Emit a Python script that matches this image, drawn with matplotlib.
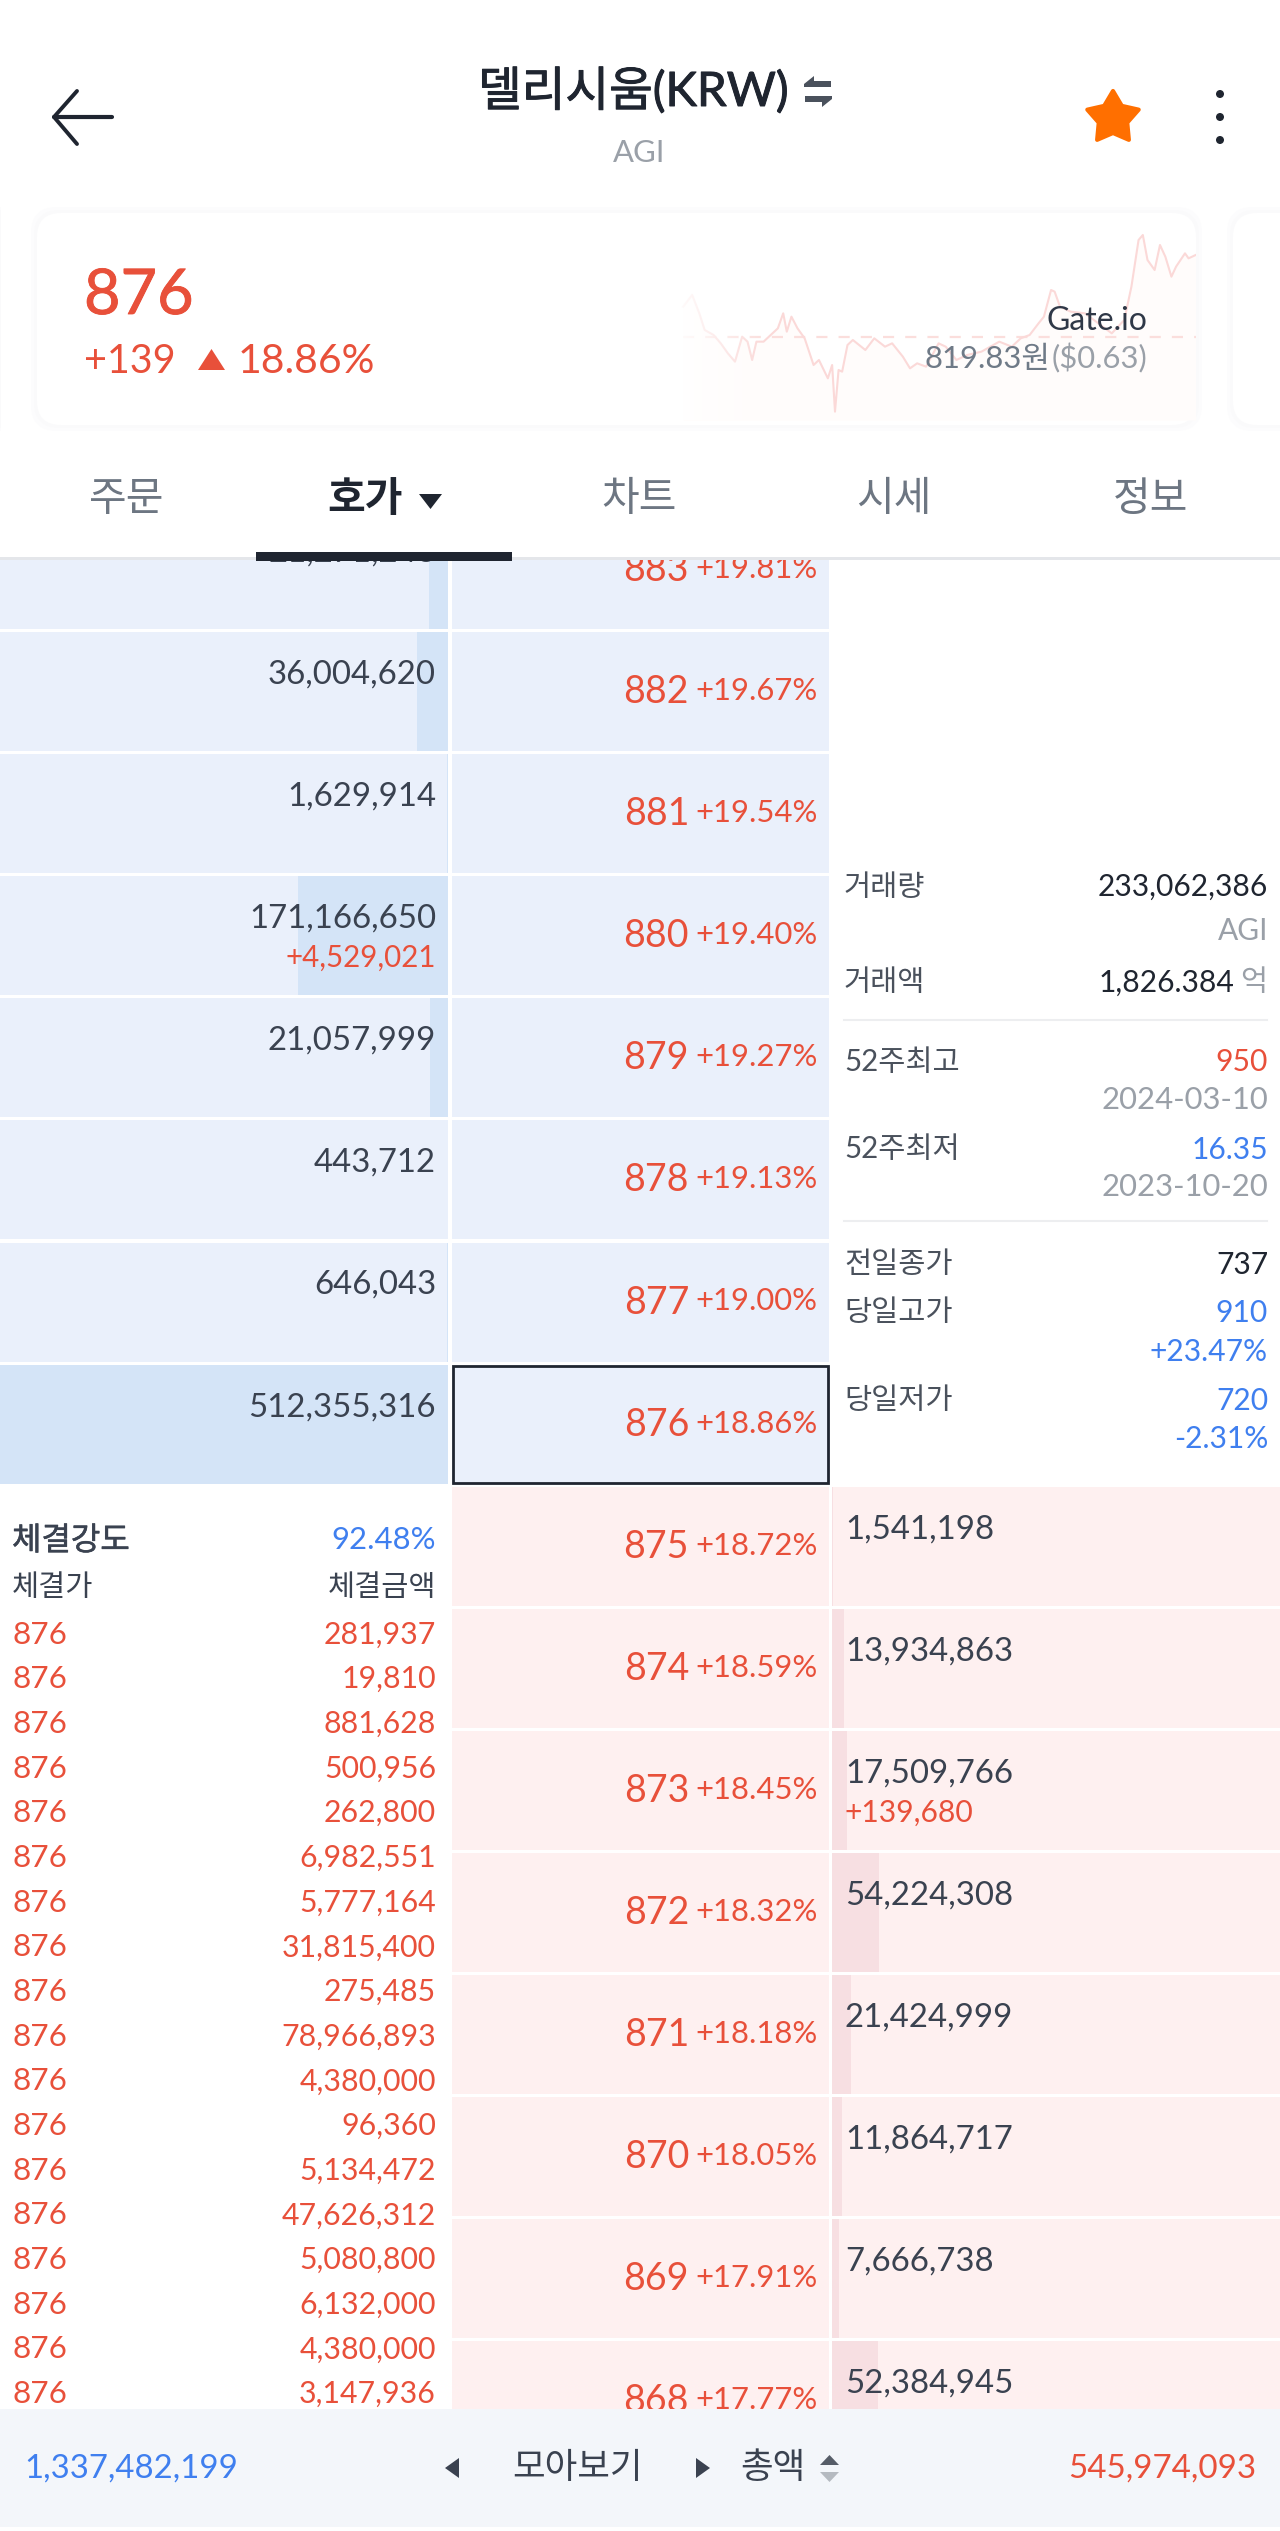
import matplotlib
matplotlib.use('Agg')
import matplotlib.pyplot as plt
import matplotlib.patheffects as pe
from matplotlib.patches import FancyBboxPatch, Polygon, Rectangle, Circle
import numpy as np

plt.rcParams['font.family'] = ['Lato', 'Noto Sans CJK KR', 'DejaVu Sans']

# order book
prices = [883, 882, 881, 880, 879, 878, 877, 876, 875, 874, 873, 872, 871, 870, 869, 868]
pcts = ['+19.81%', '+19.67%', '+19.54%', '+19.40%', '+19.27%', '+19.13%', '+19.00%', '+18.86%',
        '+18.72%', '+18.59%', '+18.45%', '+18.32%', '+18.18%', '+18.05%', '+17.91%', '+17.77%']
bid_vols = [21271243, 36004620, 1629914, 171166650, 21057999, 443712, 646043, 512355316]
ask_vols = [1541198, 13934863, 17509766, 54224308, 21424999, 11864717, 7666738, 52384945]
bid_change = {880: '+4,529,021'}
ask_change = {873: '+139,680'}

# trades
trade_price = '876'
trade_vals = [281937, 19810, 881628, 500956, 262800, 6982551, 5777164, 31815400, 275485,
              78966893, 4380000, 96360, 5134472, 47626312, 5080800, 6132000, 4380000, 3147936]

# sparkline
spark_x = [65, 90, 110, 125, 150, 170, 190, 210, 230, 245, 258, 270, 290, 320, 330, 345, 355, 368, 385, 405,
           430, 445, 470, 482, 490, 500, 510, 525, 540, 575, 600, 630, 650, 680, 700, 720, 745, 780, 800, 830,
           860, 900, 950, 985, 1010, 1035, 1060, 1075, 1095, 1105, 1120, 1150, 1190, 1240, 1265, 1300, 1320,
           1340, 1352, 1365, 1385, 1400, 1415, 1432, 1445, 1470, 1480, 1500]
spark_y = [370, 405, 350, 300, 285, 260, 230, 205, 280, 265, 210, 265, 265, 295, 305, 350, 295, 340, 305, 275,
           195, 210, 155, 195, 55, 180, 175, 255, 270, 240, 275, 250, 260, 220, 185, 200, 190, 260, 250, 210,
           225, 235, 265, 250, 275, 285, 320, 340, 420, 415, 370, 355, 350, 310, 290, 330, 430, 570, 585, 510,
           480, 555, 520, 460, 490, 530, 515, 525]

RED = '#E8503A'
BLUE = '#3F7FEF'
DARK = '#3A4250'
INK = '#1F2530'
GRAY = '#9AA0A8'
BID_BG = '#EAF0FB'
BID_BAR = '#D4E4F7'
ASK_BG = '#FEF0F0'
ASK_BAR = '#F7DFE2'

fig = plt.figure(figsize=(12.8, 25.31), dpi=100, facecolor='white')

# whole page in pixels
ax = fig.add_axes([0, 0, 1, 1], zorder=1)
ax.set_xlim(0, 1280)
ax.set_ylim(2531, 0)
ax.axis('off')


def px(size):
    return size * 0.72


def put(a, x, y, s, size, color=DARK, ha='left', heavy=0, **kw):
    t = a.text(x, y, s, fontsize=px(size), color=color, ha=ha, va='baseline', clip_on=True, **kw)
    if heavy:
        # no medium weight installed, thicken the regular one a little
        t.set_path_effects([pe.withStroke(linewidth=heavy, foreground=color)])
    return t


# header
ax.plot([77, 54, 77], [91, 117, 144], color=INK, lw=2.8, solid_joinstyle='round', solid_capstyle='round')
ax.plot([54, 112], [117, 117], color=INK, lw=3, solid_capstyle='round')
put(ax, 478, 106, '델리시움(KRW)', 47.5, INK, heavy=0.7)
put(ax, 639, 162, 'AGI', 31, GRAY, ha='center')
# swap arrows
ax.add_patch(Polygon([(804, 84), (814, 76), (814, 81), (831, 81), (831, 87), (804, 87)], fc='#4A515C', ec='none'))
ax.add_patch(Polygon([(832, 99), (822, 107), (822, 102), (805, 102), (805, 96), (832, 96)], fc='#4A515C', ec='none'))
# star
ang = np.deg2rad(90 + np.arange(10) * 36)
rad = np.where(np.arange(10) % 2 == 0, 27, 15)
ax.add_patch(Polygon(np.c_[1113 + rad * np.cos(ang), 118 - rad * np.sin(ang)], fc='#FF6F00', ec='#FF6F00',
                     lw=3, joinstyle='round'))
for yy in [94, 117, 140]:
    ax.add_patch(Circle((1220, yy), 4, fc=INK, ec='none'))

# price card
for off, col in [(6, '#FCFCFD'), (3, '#FAFAFB')]:
    ax.add_patch(FancyBboxPatch((37 - off, 213 - off), 1159 + 2 * off, 212 + 2 * off,
                                boxstyle='round,pad=0,rounding_size=26', fc=col, ec='none'))
    ax.add_patch(FancyBboxPatch((1233 - off, 213 - off), 100, 212 + 2 * off,
                                boxstyle='round,pad=0,rounding_size=26', fc=col, ec='none'))
    ax.add_patch(Rectangle((0, 213 - off), 1, 212 + 2 * off, fc=col, ec='none'))
ax.add_patch(FancyBboxPatch((37, 213), 1159, 212, boxstyle='round,pad=0,rounding_size=24', fc='white', ec='none'))
ax.add_patch(FancyBboxPatch((1233, 213), 100, 212, boxstyle='round,pad=0,rounding_size=24', fc='white', ec='none'))

spark = fig.add_axes([660 / 1280, 1 - 430 / 2531, 535.7 / 1280, 220 / 2531], zorder=2)
spark.set_xlim(0, 1500)
spark.set_ylim(0, 660)
spark.axis('off')
spark.fill_between(spark_x, spark_y, 30, color='#FFFCFB', lw=0, zorder=1)
spark.hlines(280, 65, 1500, color='#FBDEDC', lw=1.6, linestyles=(0, (5, 5)), zorder=2)
spark.plot(spark_x, spark_y, color='#FBD9D8', lw=1.5, zorder=3)
# line fades out towards the left
fade = np.zeros((1, 60, 4))
fade[..., :3] = 1
fade[..., 3] = np.linspace(0.95, 0, 60)
spark.imshow(fade, extent=(40, 300, 30, 650), aspect='auto', zorder=4)
spark.set_xlim(0, 1500)
spark.set_ylim(0, 660)

# card text above the sparkline
top = fig.add_axes([0, 0, 1, 1], zorder=5)
top.set_xlim(0, 1280)
top.set_ylim(2531, 0)
top.axis('off')
top.patch.set_alpha(0)

put(top, 84, 314, '876', 63, RED, heavy=0.6)
put(top, 84, 373, '+139', 39.5, RED)
top.add_patch(Polygon([(198, 370), (211.5, 349), (225, 370)], fc=RED, ec='none'))
put(top, 238, 373, '18.86%', 41, RED)
put(top, 1147, 330, 'Gate.io', 32, '#2F3847', ha='right')
put(top, 925, 368, '819.83원', 31, '#6F7A87')
put(top, 1147, 368, '($0.63)', 31, GRAY, ha='right')

# tabs
tabs = ['주문', '호가', '차트', '시세', '정보']
tab_x = [127, 365, 639, 894, 1151]
for t, x in zip(tabs, tab_x):
    on = t == '호가'
    put(top, x, 511, t, 41, INK if on else '#6D7682', ha='center', fontweight='bold' if on else 'normal')
top.add_patch(Polygon([(419, 494), (442, 494), (430.5, 509)], fc=INK, ec='none'))
top.add_patch(Rectangle((0, 557), 1280, 3, fc='#E4E6EA', ec='none'))
top.add_patch(Rectangle((256, 552), 256, 9, fc=INK, ec='none'))

# order book table, clipped to the scrolling area
tbl = fig.add_axes([0, 1 - 2409 / 2531, 1, (2409 - 560) / 2531], zorder=3)
tbl.set_xlim(0, 1280)
tbl.set_ylim(2409, 560)
tbl.axis('off')

ROW_TOP = 632 - 122.1
ROW_STEP = 122.1
ROW_H = 119
n_bid = len(bid_vols)
vol_scale = 448 / max(bid_vols)
rows = np.arange(len(prices))
row_top = ROW_TOP + rows * ROW_STEP
bg = [BID_BG] * n_bid + [ASK_BG] * len(ask_vols)

tbl.barh(row_top, [377.5] * len(rows), left=451.5, height=ROW_H, align='edge', color=bg, lw=0, zorder=1)
tbl.barh(row_top[:n_bid], [448] * n_bid, left=0, height=ROW_H, align='edge', color=BID_BG, lw=0, zorder=1)
tbl.barh(row_top[n_bid:], [448] * len(ask_vols), left=832, height=ROW_H, align='edge', color=ASK_BG, lw=0, zorder=1)
tbl.barh(row_top[:n_bid], -np.array(bid_vols) * vol_scale, left=448, height=ROW_H, align='edge',
         color=BID_BAR, lw=0, zorder=2)
tbl.barh(row_top[n_bid:], np.array(ask_vols) * vol_scale, left=832, height=ROW_H, align='edge',
         color=ASK_BAR, lw=0, zorder=2)

for i, (p, pc) in enumerate(zip(prices, pcts)):
    put(tbl, 689, row_top[i] + 71, str(p), 37.5, RED, ha='right', zorder=5)
    put(tbl, 817.5, row_top[i] + 68, pc, 31, RED, ha='right', zorder=5)

for i, v in enumerate(bid_vols):
    put(tbl, 436, row_top[i] + 51.5, f'{v:,}', 33, DARK, ha='right', zorder=5)
    if prices[i] in bid_change:
        put(tbl, 436, row_top[i] + 91, bid_change[prices[i]], 29.5, RED, ha='right', zorder=5)

for i, v in enumerate(ask_vols):
    r = i + n_bid
    put(tbl, 845, row_top[r] + 51.5, f'{v:,}', 33, DARK, zorder=5)
    if prices[r] in ask_change:
        put(tbl, 844, row_top[r] + 91, ask_change[prices[r]], 30, RED, zorder=5)

# current price box
cur = prices.index(876)
tbl.add_patch(Rectangle((452.5, row_top[cur] + 1), 375.5, ROW_H - 2, fc='none', ec=INK, lw=2, zorder=6))

# trades list
put(tbl, 12, 1550, '체결강도', 32, DARK, heavy=0.4, zorder=5)
put(tbl, 436, 1549, '92.48%', 31, BLUE, ha='right', zorder=5)
put(tbl, 12, 1596, '체결가', 29.5, DARK, zorder=5)
put(tbl, 436, 1596, '체결금액', 29.5, DARK, ha='right', zorder=5)
for i, v in enumerate(trade_vals):
    yy = 1643.6 + i * 44.67
    put(tbl, 12, yy, trade_price, 31.5, RED, zorder=5)
    put(tbl, 436, yy, f'{v:,}', 30.3, RED, ha='right', zorder=5)

# stats block
stats_l = [('거래량', 896), ('거래액', 991), ('52주최고', 1071), ('52주최저', 1158), ('전일종가', 1273), ('당일고가', 1321), ('당일저가', 1409)]
for s, yy in stats_l:
    put(tbl, 844, yy, s, 29.5, '#4A515C', zorder=5)
stats_r = [('233,062,386', 896, INK), ('AGI', 940, GRAY), ('950', 1071, RED), ('2024-03-10', 1109, GRAY),
           ('16.35', 1158.6, BLUE), ('2023-10-20', 1196.5, GRAY), ('737', 1273.5, INK), ('910', 1322, BLUE),
           ('+23.47%', 1360.6, BLUE), ('720', 1410, BLUE), ('-2.31%', 1448, BLUE)]
for s, yy, c in stats_r:
    size = 31 if '-' in s[1:] else 30
    put(tbl, 1268, yy, s, size, c, ha='right', zorder=5)
put(tbl, 1234, 991.5, '1,826.384', 30, INK, ha='right', zorder=5)
put(tbl, 1267, 991, '억', 29.5, GRAY, ha='right', zorder=5)
tbl.plot([844, 1267], [1020, 1020], color='#EDEEF0', lw=1.5, zorder=3)
tbl.plot([844, 1267], [1221, 1221], color='#EDEEF0', lw=1.5, zorder=3)

# bottom bar
top.add_patch(Rectangle((0, 2409), 1280, 118, fc='#F3F6FA', ec='none', zorder=0))
put(top, 24, 2478, '1,337,482,199', 33, BLUE)
put(top, 1256, 2478, '545,974,093', 33.2, RED, ha='right')
put(top, 577, 2478, '모아보기', 35.5, DARK, ha='center')
put(top, 773, 2478, '총액', 35.5, DARK, ha='center')
top.add_patch(Polygon([(445, 2468), (459, 2458), (459, 2478)], fc=DARK, ec='none'))
top.add_patch(Polygon([(710, 2468), (696, 2458), (696, 2478)], fc=DARK, ec='none'))
top.add_patch(Polygon([(820, 2465), (829.5, 2455), (839, 2465)], fc='#565D68', ec='none'))
top.add_patch(Polygon([(820, 2472), (839, 2472), (829.5, 2482)], fc='#B5BAC0', ec='none'))

fig.savefig('out.png', dpi=100, facecolor='white')
